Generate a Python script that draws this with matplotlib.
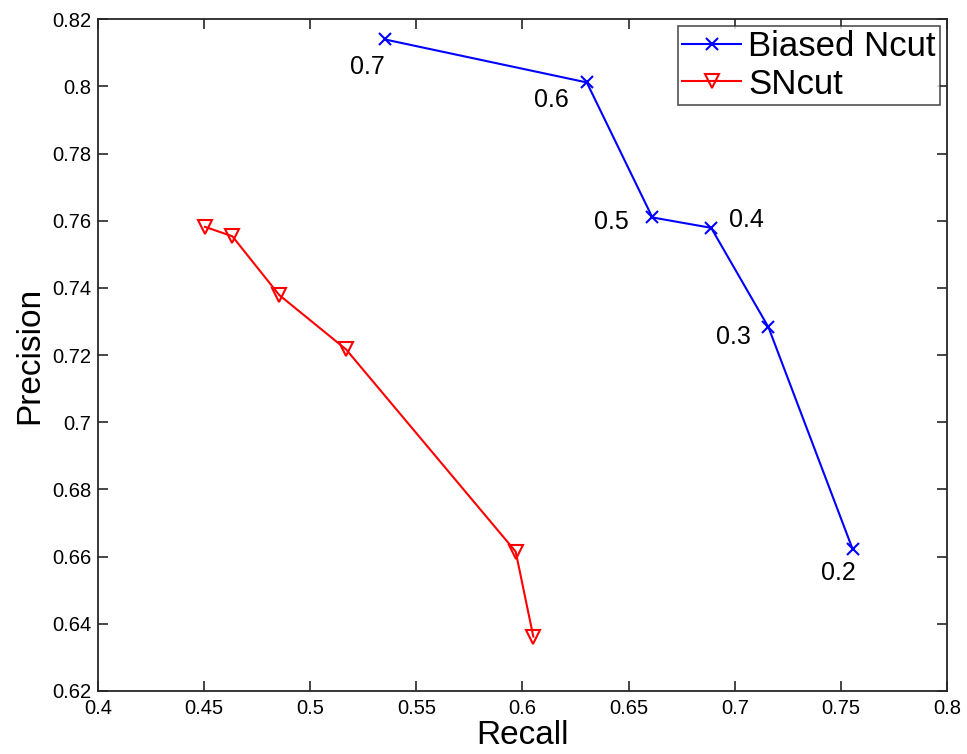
import matplotlib
matplotlib.use("Agg")
import matplotlib.pyplot as plt

# precision / recall values
biased_recall = [0.5352, 0.6303, 0.6612, 0.6889, 0.7159, 0.7555]
biased_precision = [0.8140, 0.8012, 0.7610, 0.7579, 0.7283, 0.6623]
biased_labels = ["0.7", "0.6", "0.5", "0.4", "0.3", "0.2"]

sncut_recall = [0.4504, 0.4633, 0.4854, 0.5169, 0.5968, 0.6051]
sncut_precision = [0.7582, 0.7554, 0.7379, 0.7217, 0.6615, 0.6362]

x_ticks = [0.4, 0.45, 0.5, 0.55, 0.6, 0.65, 0.7, 0.75, 0.8]
y_ticks = [0.62, 0.64, 0.66, 0.68, 0.7, 0.72, 0.74, 0.76, 0.78, 0.8, 0.82]

# pixel offsets of each label from its point
label_offsets = [(-18, -28), (-35, -18), (-41, -5), (35, 8), (-35, -10), (-14, -24)]

plt.rcParams["font.family"] = ["Liberation Sans", "DejaVu Sans"]

fig = plt.figure(figsize=(9.67, 7.54), dpi=100)
ax = fig.add_axes([0.1013, 0.0836, 0.8780, 0.8908])

ax.plot(biased_recall, biased_precision, color="#0000ff", marker="x",
        markersize=8, markeredgewidth=1.5, linewidth=1.5, label="Biased Ncut")
ax.plot(sncut_recall, sncut_precision, color="#ff0000", marker="v",
        markersize=10, markeredgewidth=1.5, fillstyle="none", linewidth=1.5,
        label="SNcut")

for x, y, t, (dx, dy) in zip(biased_recall, biased_precision, biased_labels, label_offsets):
    ax.annotate(t, (x, y), xytext=(dx, dy), textcoords="offset pixels",
                ha="center", va="center", fontsize=18)

ax.set_xlim(0.4, 0.8)
ax.set_ylim(0.62, 0.82)
ax.set_xticks(x_ticks)
ax.set_xticklabels([("%g" % v) for v in x_ticks])
ax.set_yticks(y_ticks)
ax.set_yticklabels([("%g" % v) for v in y_ticks])
ax.tick_params(direction="in", length=7, width=1.2, labelsize=14.5,
               top=True, right=True, color="#262626", pad=5)
ax.tick_params(axis="x", pad=6)
for s in ax.spines.values():
    s.set_linewidth(1.3)
    s.set_color("#262626")

ax.set_xlabel("Recall", fontsize=24, labelpad=1)
ax.set_ylabel("Precision", fontsize=24, labelpad=5)

leg = ax.legend(loc="upper right", fontsize=25, frameon=True, fancybox=False,
                borderpad=0.12, handlelength=1.7, handletextpad=0.2,
                labelspacing=0.12, borderaxespad=0.2)
leg.get_frame().set_edgecolor("#262626")
leg.get_frame().set_linewidth(1.2)

fig.savefig("out.png", dpi=100)
